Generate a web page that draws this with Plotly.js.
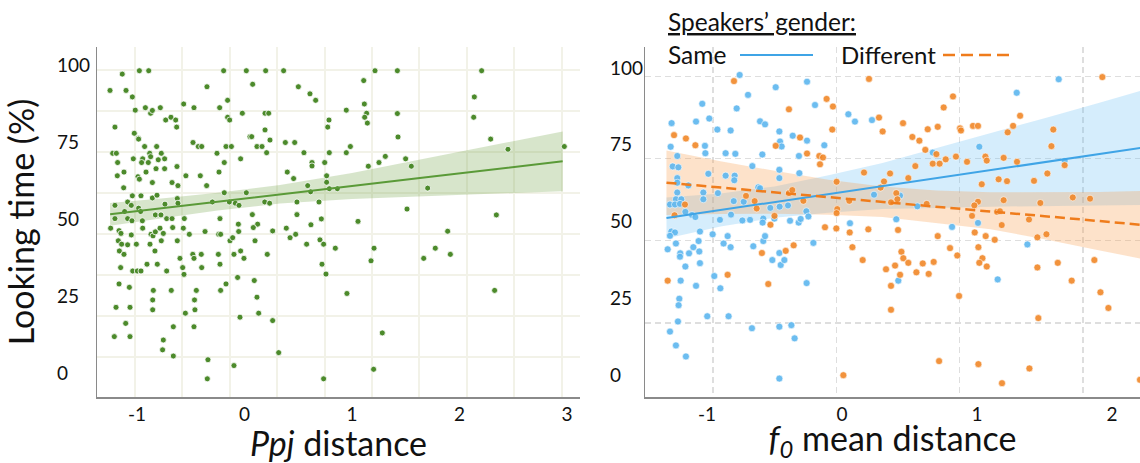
<!DOCTYPE html>
<html>
<head>
<meta charset="utf-8">
<script src="https://cdn.plot.ly/plotly-3.0.1.min.js"></script>
<style>html,body{margin:0;padding:0;background:#fff;}#chart{width:1140px;height:463px;}</style>
</head>
<body>
<div id="chart"></div>
<script>
// ---------- Left panel: Ppj distance ----------
const ppjX = [-1.251,-1.137,-1.102,-1.043,-0.978,-0.891,-1.205,-1.016,-0.922,-0.873,-0.857,-0.783,-0.733,-0.684,-0.640,-0.631,-0.566,-0.470,-0.349,-0.231,-0.194,-0.157,-0.157,-0.138,-0.020,0.017,0.076,0.197,0.191,0.225,0.191,0.237,0.364,0.501,0.051,0.067,
-1.025,-0.988,-0.985,-1.226,-1.192,-1.180,-1.034,-0.947,-0.929,-0.882,-0.873,-0.817,-0.774,-0.743,-0.628,-0.479,-0.430,-0.398,-0.256,-0.188,-0.172,-0.122,-0.036,0.116,0.163,0.206,0.380,0.467,
-1.183,-1.121,-1.124,-0.991,-0.978,-0.957,-0.916,-0.895,-0.857,-0.823,-0.802,-0.743,-0.674,-0.619,-0.545,-0.411,-0.352,-0.237,-0.188,0.017,0.398,0.457,
-1.043,-0.963,-0.857,-0.814,-0.625,-0.619,-1.205,-1.087,-1.053,-1.115,-0.985,-0.966,-0.740,-0.299,-0.141,-0.085,-0.051,0.188,0.234,0.488,0.488,
-1.205,-1.087,-1.047,-0.950,-0.829,-0.777,-0.724,-0.674,-0.560,-0.228,-0.057,0.073,0.122,-1.245,-0.947,-0.668,-0.569,0.082,0.389,
-1.167,-1.149,-1.053,-0.870,-0.851,-0.829,-0.786,-0.755,-0.513,-0.367,-0.240,-0.222,-0.054,0.262,0.476,
-1.174,-1.143,-1.164,-1.121,-1.087,-1.006,-0.879,-0.774,-0.833,-0.907,-0.811,-0.724,-1.152,-1.040,-0.997,-0.963,-0.625,-0.600,-0.575,-0.563,-0.481,-0.470,-0.402,-0.398,-0.243,-0.228,-0.135,-0.098,-0.036,-0.005,0.098,0.212,0.424,-0.110,
-1.167,-1.071,-0.848,-0.681,-0.448,-0.222,-0.172,-0.064,0.091,-1.195,-1.065,-0.854,-0.854,-0.465,-0.461,-0.550,0.116,0.132,-1.105,-1.065,-1.211,-0.662,-0.470,-0.042,0.262,-0.755,-0.762,-0.662,-0.340,-0.346,-0.098,0.318,
1.214,1.422,2.206,0.609,0.662,1.109,1.115,0.947,1.136,1.118,1.143,1.422,0.786,0.774,0.553,0.789,0.947,0.985,1.428,2.138,2.132,2.290,2.451,2.975,
0.588,0.615,0.628,0.628,0.746,0.764,0.764,0.789,0.864,1.152,1.251,1.310,1.499,1.552,1.704,0.693,0.715,0.618,1.056,1.512,1.890,2.343,0.702,
0.578,0.736,0.845,0.721,0.758,1.177,1.205,1.667,1.775,1.915,0.953,2.327,1.282,1.201,0.736];
const ppjY = [91.7,97.0,91.7,89.6,98.1,98.1,79.8,85.3,86.1,84.3,85.2,86.1,82.1,83.0,82.1,79.8,87.3,86.1,92.9,86.1,98.1,88.5,83.0,82.1,84.3,98.1,93.7,98.1,84.3,84.3,78.9,75.6,98.1,92.9,76.7,76.7,
77.8,76.2,75.9,71.3,71.3,68.3,69.5,69.5,73.5,71.3,70.2,73.5,71.3,69.5,67.0,74.8,73.5,73.5,71.3,68.3,73.5,73.5,69.5,73.5,73.5,71.5,74.8,74.8,
64.0,65.2,60.1,63.7,62.9,68.3,65.2,68.3,61.8,66.3,69.2,66.3,61.8,60.8,64.0,64.0,60.8,65.2,58.5,58.5,65.2,63.1,
57.5,57.5,56.8,57.7,56.6,55.1,54.4,55.5,54.4,52.4,53.5,52.4,54.8,55.5,55.5,55.1,54.4,55.5,55.1,55.5,51.4,
50.1,50.1,49.4,49.4,51.3,51.3,50.1,50.1,50.1,50.1,48.3,51.4,48.3,47.0,47.0,47.2,47.0,47.2,47.0,
46.2,45.3,44.8,45.0,44.5,45.8,47.0,45.3,45.0,45.9,45.0,45.0,45.9,46.1,45.0,
42.9,41.8,39.6,38.5,41.6,41.8,41.8,42.9,39.6,35.3,35.3,33.1,34.2,33.1,33.1,33.1,42.9,37.2,34.2,32.0,38.5,37.2,38.5,34.2,38.5,35.3,42.9,38.5,39.6,37.2,42.9,38.5,43.9,43.9,
28.9,27.8,26.8,26.8,26.8,26.8,28.9,31.0,30.0,21.3,21.3,23.7,20.5,23.7,20.5,19.4,24.6,19.4,16.1,11.8,11.8,15.0,15.0,18.1,17.0,10.7,7.5,5.5,4.3,-1.9,2.4,6.6,
98.1,98.1,98.1,90.6,88.5,94.9,87.3,85.3,84.3,83.0,81.1,84.2,82.1,79.8,71.5,71.5,71.5,73.5,76.6,89.6,83.0,75.9,72.6,73.5,
60.8,58.8,68.3,67.2,68.3,64.0,61.9,59.8,59.8,67.1,68.3,70.3,69.5,67.1,60.0,55.5,50.0,48.1,49.2,53.2,46.0,51.3,43.2,
41.8,41.8,40.5,35.3,32.1,36.4,40.5,37.2,40.5,38.5,25.8,26.8,13.0,1.2,-1.9];
// fitted line and 95% band
const ppjFitX   = [-1.25,-0.75,-0.25,0.33,1.0,1.73,2.3,2.96];
const ppjFitY   = [51.5,53.5,55.6,58.0,60.7,63.7,66.0,68.7];
const ppjFitUp  = [55.2,56.7,58.5,61.0,64.9,70.0,73.9,78.4];
const ppjFitLow = [47.8,50.3,52.7,55.0,56.5,57.4,58.1,59.0];

// ---------- Right panel: f0 mean distance ----------
const sameX = [-0.758,-0.259,-0.696,-0.491,-1.035,-0.780,-0.200,-1.262,-1.081,-0.983,-0.923,-0.825,-0.607,-0.570,-0.464,-0.365,-0.459,-0.447,-0.259,-0.131,0.047,0.096,
-1.269,-1.220,-1.015,-1.012,-0.862,-0.790,-0.590,-0.319,-1.254,-1.212,-1.220,-1.220,-1.138,-0.990,-0.862,-0.795,-0.798,-0.664,-0.620,-0.464,-0.464,-0.316,
-1.220,-1.230,-1.190,-1.274,-1.237,-1.200,-1.160,-1.111,-1.027,-1.027,-0.919,-0.802,-0.728,-0.607,-0.531,-0.462,-0.400,-0.264,-0.249,-0.583,-0.588,-0.681,-0.501,-0.385,-0.321,-0.306,-0.822,-0.738,-1.086,-0.904,0.059,
0.222,1.294,1.605,1.017,0.672,0.430,0.237,0.558,1.649,0.402,1.007,0.815,
-1.264,-1.237,-1.274,-1.291,-1.230,-1.198,-1.200,-1.133,-1.101,-1.057,-1.062,-1.052,-1.160,-1.195,-1.081,-0.946,-0.901,-0.877,-0.847,-0.825,-0.958,-1.052,-0.657,-0.583,-0.570,-0.516,-0.464,-0.454,-0.427,-0.262,-0.212,
-1.205,-1.210,-1.215,-1.274,-1.230,-1.156,-0.998,-0.840,-0.667,-0.464,-0.375,-0.351,-0.464,
0.417,1.153,1.373];
const sameY = [97.7,95.5,91.2,93.7,88.3,86.8,87.9,82.0,82.5,83.5,79.9,79.6,82.6,81.6,79.3,77.9,76.0,74.4,76.3,74.8,84.9,82.5,
74.3,71.3,74.6,72.2,72.2,72.0,71.8,71.3,67.9,67.6,64.1,62.6,61.7,65.5,64.9,64.9,63.4,68.0,61.1,66.8,64.1,65.7,
59.4,57.2,57.2,55.5,55.5,55.7,53.1,52.1,59.4,57.2,59.2,56.6,56.4,60.8,54.4,54.8,55.2,53.3,51.6,50.9,49.6,50.5,50.9,50.2,49.6,50.8,52.2,50.3,51.4,50.5,49.4,
83.0,91.9,96.3,74.3,72.4,58.4,58.7,54.9,69.7,50.7,49.5,48.2,
46.7,46.4,45.3,40.9,42.8,39.6,38.5,39.6,41.6,40.2,43.6,36.4,35.3,30.7,29.0,32.2,28.2,42.8,45.2,41.6,45.8,46.7,41.9,43.6,45.2,37.4,39.7,35.8,37.4,29.9,43.0,
24.8,22.7,17.4,14.1,9.6,6.0,19.1,19.1,15.2,15.7,16.2,11.9,-1.2,
30.7,31.1,42.5];
const diffX = [-0.800,-0.393,-0.114,-0.067,-0.072,-1.244,-1.156,-1.086,-0.491,-0.311,-0.259,-0.168,-0.163,-0.141,-0.040,-1.163,-0.711,-0.647,-0.632,-0.393,-0.368,-0.286,-0.035,-0.040,0.054,-0.126,-0.042,0.195,-1.240,-0.500,-0.530,
0.200,1.928,0.274,0.301,0.452,0.521,0.573,0.617,0.635,0.709,0.753,0.822,0.874,0.881,0.970,1.007,1.227,1.267,1.319,1.565,1.551,0.699,0.672,0.723,0.768,0.844,0.926,1.062,1.072,1.197,1.296,0.543,0.356,0.163,0.311,0.286,0.491,1.035,1.160,1.222,1.422,1.521,1.649,
0.402,0.410,0.627,1.007,0.980,1.197,1.469,1.709,1.837,0.363,0.963,1.148,1.170,1.385,1.183,0.415,
-1.291,-0.847,-0.593,-0.417,-0.358,-0.546,0.057,0.077,0.010,
0.709,0.153,0.326,0.393,0.440,0.454,0.491,0.551,0.598,0.642,0.679,0.430,0.363,0.363,0.800,0.854,0.867,0.983,1.064,1.131,1.010,1.040,1.017,1.072,1.447,1.514,1.447,1.598,1.701,1.869,1.914,1.973,1.454,0.719,1.010,1.185,1.388,2.207];
const diffY = [95.7,86.5,89.9,87.4,79.9,78.1,77.0,74.8,74.6,77.3,72.1,71.3,68.6,70.8,62.9,55.5,58.3,56.6,54.2,59.2,60.2,56.7,54.0,52.7,56.7,48.1,47.7,47.4,52.0,51.8,48.9,
96.4,97.0,83.8,79.3,82.0,77.5,76.3,73.3,80.0,80.8,87.1,90.7,80.3,79.6,81.1,81.1,79.0,81.1,84.4,79.9,74.5,71.9,68.8,68.8,70.2,71.1,69.4,71.1,69.8,70.7,69.4,68.0,65.6,65.9,63.0,61.0,64.1,62.1,63.7,63.1,63.2,65.6,68.3,
59.2,57.2,55.7,56.4,55.2,56.9,56.0,57.8,57.4,56.2,51.8,53.1,53.3,50.6,48.8,47.2,
30.7,32.6,39.7,40.4,42.2,29.6,46.4,41.6,-0.1,
45.2,37.4,34.4,35.6,40.1,38.0,36.5,33.4,36.3,32.9,36.8,32.6,29.0,21.2,41.3,38.9,25.7,46.4,45.2,44.0,41.6,38.0,36.5,35.3,44.8,45.8,35.0,36.5,30.7,37.4,26.9,21.8,18.5,4.5,3.5,-2.7,2.1,-1.6];
const f0FitX     = [-1.30,-0.9,-0.5,-0.1,0.3,0.7,1.1,1.5,1.9,2.21];
const sameFitY   = [51.1,53.7,56.3,58.9,61.5,64.1,66.7,69.3,71.9,73.9];
const sameFitUp  = [57.8,59.1,61.4,65.0,69.0,73.8,78.6,83.6,88.6,92.5];
const sameFitLow = [44.4,48.3,51.2,52.8,54.0,54.4,54.8,55.0,55.2,55.3];
const diffFitY   = [62.6,61.0,59.5,57.9,56.4,54.8,53.2,51.7,50.1,48.9];
const diffFitUp  = [73.1,69.6,66.5,63.6,61.4,60.1,59.5,59.5,59.6,59.9];
const diffFitLow = [52.1,52.4,52.5,52.2,51.4,49.5,47.4,44.2,40.6,37.9];

const yTicks = [0,25,50,75,100];
const ppjTicks = [-1,0,1,2,3];
const ppjTickText = ['-1','0','1','2','3'];
const f0Ticks = [-1,0,1,2];
const f0TickText = ['-1','0','1','2'];

const FONT = 'Lato, "Open Sans", sans-serif';
const GREEN = '#4c8a2b', BLUE = 'rgba(92,182,238,0.9)', ORANGE = 'rgba(241,135,40,0.9)';

function band(x, up, low, color, xa, ya) {
  return {type:'scatter', mode:'lines', x: x.concat(x.slice().reverse()),
    y: up.concat(low.slice().reverse()), fill:'toself', fillcolor:color,
    line:{width:0}, xaxis:xa, yaxis:ya, hoverinfo:'skip', showlegend:false};
}

const traces = [
  band(ppjFitX, ppjFitUp, ppjFitLow, 'rgba(110,160,70,0.28)', 'x', 'y'),
  {type:'scatter', mode:'markers', x:ppjX, y:ppjY, xaxis:'x', yaxis:'y', showlegend:false,
   marker:{size:6, color:GREEN, line:{color:'#ffffff', width:0.8}}},
  {type:'scatter', mode:'lines', x:ppjFitX, y:ppjFitY, xaxis:'x', yaxis:'y', showlegend:false,
   line:{color:'#5a9a38', width:2}},
  band(f0FitX, sameFitUp, sameFitLow, 'rgba(100,190,245,0.27)', 'x2', 'y2'),
  band(f0FitX, diffFitUp, diffFitLow, 'rgba(250,160,80,0.30)', 'x2', 'y2'),
  {type:'scatter', mode:'markers', x:sameX, y:sameY, xaxis:'x2', yaxis:'y2', name:'Same', showlegend:false,
   marker:{size:7, color:BLUE, line:{color:'#ffffff', width:0.6}}},
  {type:'scatter', mode:'markers', x:diffX, y:diffY, xaxis:'x2', yaxis:'y2', name:'Different', showlegend:false,
   marker:{size:7, color:ORANGE, line:{color:'#ffffff', width:0.6}}},
  {type:'scatter', mode:'lines', x:f0FitX, y:sameFitY, xaxis:'x2', yaxis:'y2', showlegend:false,
   line:{color:'#3fa4e6', width:2}},
  {type:'scatter', mode:'lines', x:f0FitX, y:diffFitY, xaxis:'x2', yaxis:'y2', showlegend:false,
   line:{color:'#ef7c1c', width:2.5, dash:'10px,5px'}},
  // helper (empty) traces so the overlay grid / label axes are drawn
  {type:'scatter', x:[], y:[], xaxis:'x3', yaxis:'y3', showlegend:false},
  {type:'scatter', x:[], y:[], xaxis:'x4', yaxis:'y4', showlegend:false},
  {type:'scatter', x:[], y:[], xaxis:'x', yaxis:'y5', showlegend:false},
  {type:'scatter', x:[], y:[], xaxis:'x2', yaxis:'y6', showlegend:false}
];

const yDom = [66/463, 416/463];
const tickFont = {family:FONT, size:19, color:'#111'};
const baseX = {showgrid:false, zeroline:false, showline:true, linecolor:'#8a8a8a', linewidth:1.5,
  ticks:'', tickfont:tickFont, ticklabelstandoff:0};
const baseY = {showgrid:false, zeroline:false, showline:true, linecolor:'#8a8a8a', linewidth:1.5,
  ticks:'', showticklabels:false};
const gridAx = {showticklabels:false, zeroline:false, showline:false, ticks:'', dtick:1, tick0:0};

const layout = {
  width:1140, height:463, margin:{l:0, r:0, t:0, b:0},
  paper_bgcolor:'#ffffff', plot_bgcolor:'rgba(0,0,0,0)', showlegend:false,
  font:{family:FONT, color:'#111'},
  xaxis: Object.assign({}, baseX, {domain:[97/1140, 580/1140], anchor:'y', range:[-1.372, 3.121],
    tickvals:ppjTicks, ticktext:ppjTickText,
    title:{text:'<i>Ppj</i> distance', font:{family:FONT, size:34, color:'#111'}, standoff:11}}),
  yaxis: Object.assign({}, baseY, {domain:yDom, anchor:'x', range:[-7.8, 105.8],
    title:{text:'Looking time (%)', font:{family:FONT, size:34, color:'#111'}, standoff:50}}),
  xaxis2: Object.assign({}, baseX, {domain:[645/1140, 1], anchor:'y2', range:[-1.459, 2.207],
    tickvals:f0Ticks, ticktext:f0TickText,
    title:{text:'<i>f<sub>0</sub></i> mean distance', font:{family:FONT, size:34, color:'#111'}, standoff:11}}),
  yaxis2: Object.assign({}, baseY, {domain:yDom, anchor:'x2', range:[-7.2, 106.8]}),
  // overlay grid axes
  xaxis3: Object.assign({}, gridAx, {overlaying:'x', anchor:'y3', range:[-0.802, 9.388],
    showgrid:true, gridcolor:'#f2f2e8', gridwidth:2}),
  yaxis3: Object.assign({}, gridAx, {overlaying:'y', anchor:'x3', range:[-0.976, 7.561],
    showgrid:true, gridcolor:'#f2f2e8', gridwidth:2}),
  xaxis4: Object.assign({}, gridAx, {overlaying:'x2', anchor:'y4', range:[-0.5515, 3.463],
    showgrid:true, gridcolor:'#dedede', gridwidth:1.2, griddash:'6px,4px'}),
  yaxis4: Object.assign({}, gridAx, {overlaying:'y2', anchor:'x4', range:[-0.899, 3.354],
    showgrid:true, gridcolor:'#dedede', gridwidth:1.2, griddash:'6px,4px'}),
  // left-aligned tick label axes
  yaxis5: {overlaying:'y', anchor:'free', side:'right', position:56/1140, range:[-7.8, 105.8],
    tickvals:yTicks, showgrid:false, zeroline:false, showline:false, ticks:'', tickfont:tickFont, ticklabelstandoff:0},
  yaxis6: {overlaying:'y2', anchor:'free', side:'right', position:609/1140, range:[-7.2, 106.8],
    tickvals:yTicks, showgrid:false, zeroline:false, showline:false, ticks:'', tickfont:tickFont, ticklabelstandoff:0},
  annotations:[
    {xref:'paper', yref:'paper', x:666/1140, y:(463-22)/463, xanchor:'left', yanchor:'middle', showarrow:false,
     text:'<u>Speakers’ gender:</u>', font:{family:FONT, size:24.5, color:'#111'}},
    {xref:'paper', yref:'paper', x:666/1140, y:(463-54)/463, xanchor:'left', yanchor:'middle', showarrow:false,
     text:'Same', font:{family:FONT, size:24.5, color:'#111'}},
    {xref:'paper', yref:'paper', x:839/1140, y:(463-54)/463, xanchor:'left', yanchor:'middle', showarrow:false,
     text:'Different', font:{family:FONT, size:24, color:'#111'}}
  ],
  shapes:[
    {type:'line', xref:'paper', yref:'paper', x0:740/1140, x1:813/1140, y0:(463-55)/463, y1:(463-55)/463,
     line:{color:'#3fa4e6', width:2}},
    {type:'line', xref:'paper', yref:'paper', x0:943/1140, x1:1012/1140, y0:(463-55)/463, y1:(463-55)/463,
     line:{color:'#ef7c1c', width:2.5, dash:'12px,6px'}}
  ]
};

Plotly.newPlot('chart', traces, layout, {staticPlot:true, displayModeBar:false});
</script>
</body>
</html>
